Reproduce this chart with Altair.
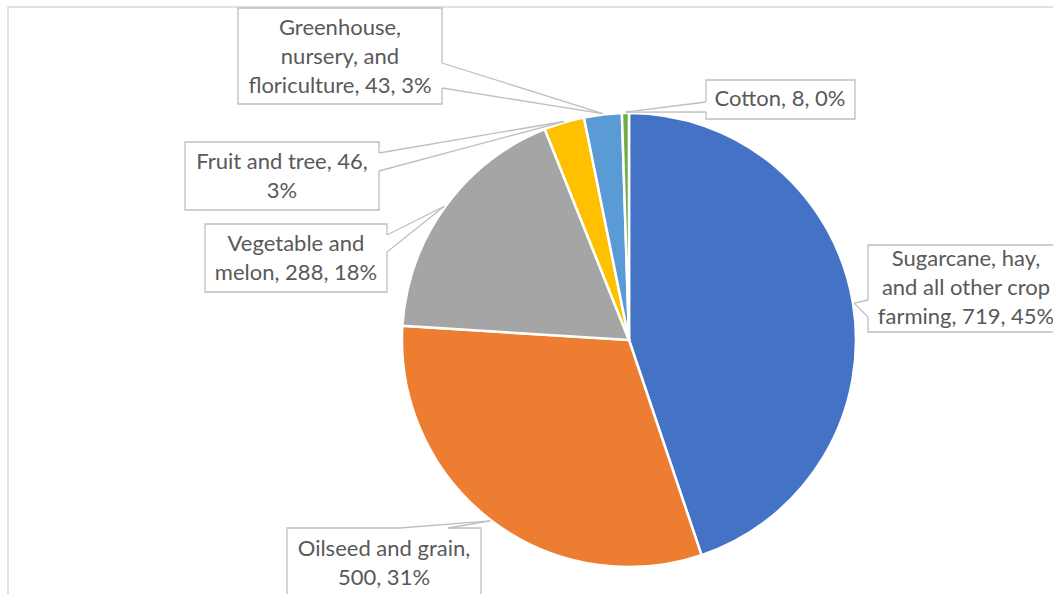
import math
import altair as alt
import pandas as pd

# ---- data ----
categories = [
    "Sugarcane, hay, and all other crop farming",
    "Oilseed and grain",
    "Vegetable and melon",
    "Fruit and tree",
    "Greenhouse, nursery, and floriculture",
    "Cotton",
]
values = [719, 500, 288, 46, 43, 8]
label_names = [
    ["Sugarcane, hay,", "and all other crop", "farming"],
    ["Oilseed and grain,"],
    ["Vegetable and", "melon"],
    ["Fruit and tree"],
    ["Greenhouse,", "nursery, and", "floriculture"],
    ["Cotton"],
]
colors = ["#4472C4", "#ED7D31", "#A5A5A5", "#FFC000", "#5B9BD5", "#70AD47"]

# ---- layout (pixels) ----
W, H = 1053, 594
CX, CY, R = 629, 340, 227
LINE_H = 29
# label boxes: x0, y0, x1, y1
boxes = [
    (868, 245, 1062, 332),
    (287, 528, 481, 598),
    (205, 224, 387, 292),
    (185, 142, 379, 210),
    (238, 8, 442, 104),
    (706, 80, 855, 119),
]
# text block centres (x, y)
text_centres = [
    (966, 288),
    (384, 563),
    (296, 258),
    (282, 176),
    (340, 57),
    (780, 99),
]
# callout bases on the box edges
bases = [
    ((868, 300), (868, 317)),
    ((400, 528), (448, 528)),
    ((387, 235), (387, 252)),
    ((379, 153), (379, 171)),
    ((442, 63), (442, 88)),
    ((706, 102), (706, 112)),
]

total = sum(values)
rows, box_rows, rule_rows, gap_rows, text_rows = [], [], [], [], []
cum = 0
for i, (c, v) in enumerate(zip(categories, values)):
    pct = round(v / total * 100)
    rows.append({"category": c, "value": v, "idx": i})
    mid = (cum + v / 2) / total * 2 * math.pi
    cum += v
    ax = CX + (R + 1) * math.sin(mid)
    ay = CY - (R + 1) * math.cos(mid)
    x0, y0, x1, y1 = boxes[i]
    box_rows.append({"x": x0, "y": y0, "x2": x1, "y2": y1})
    (bx1, by1), (bx2, by2) = bases[i]
    gap_rows.append({"x": bx1, "y": by1, "x2": bx2, "y2": by2})
    rule_rows.append({"x": bx1, "y": by1, "x2": ax, "y2": ay})
    rule_rows.append({"x": bx2, "y": by2, "x2": ax, "y2": ay})
    lines = list(label_names[i])
    tail = f"{v}, {pct}%"
    if c.startswith("Oilseed"):
        lines.append(tail)
    elif c.startswith("Fruit"):
        lines[-1] = lines[-1] + f", {v},"
        lines.append(f"{pct}%")
    else:
        lines[-1] = lines[-1] + ", " + tail
    tx, ty = text_centres[i]
    text_rows.append({"x": tx, "y": ty - (len(lines) - 1) / 2 * LINE_H, "text": lines})

df = pd.DataFrame(rows)
xs = alt.Scale(domain=[0, W], range=[0, W], nice=False, zero=False)
ys = alt.Scale(domain=[0, H], range=[0, H], nice=False, zero=False)

border = alt.Chart(pd.DataFrame([{"x": 8, "y": 7, "x2": W + 20, "y2": H + 20}])).mark_rect(
    fill="white", stroke="#D9D9D9", strokeWidth=1.5
).encode(
    x=alt.X("x:Q", scale=xs, axis=None), y=alt.Y("y:Q", scale=ys, axis=None),
    x2="x2:Q", y2="y2:Q",
)

pie = alt.Chart(df).mark_arc(outerRadius=R, stroke="white", strokeWidth=2.5).encode(
    theta=alt.Theta("value:Q", stack=True),
    order=alt.Order("idx:Q"),
    color=alt.Color("category:N", scale=alt.Scale(domain=categories, range=colors), legend=None),
    x=alt.value(CX),
    y=alt.value(CY),
)

boxes_layer = alt.Chart(pd.DataFrame(box_rows)).mark_rect(
    fill="white", stroke="#BFBFBF", strokeWidth=1.3
).encode(
    x=alt.X("x:Q", scale=xs, axis=None), y=alt.Y("y:Q", scale=ys, axis=None),
    x2="x2:Q", y2="y2:Q",
)

gap_layer = alt.Chart(pd.DataFrame(gap_rows)).mark_rule(stroke="white", strokeWidth=2.5).encode(
    x=alt.X("x:Q", scale=xs, axis=None), y=alt.Y("y:Q", scale=ys, axis=None),
    x2="x2:Q", y2="y2:Q",
)

leaders = alt.Chart(pd.DataFrame(rule_rows)).mark_rule(stroke="#BFBFBF", strokeWidth=1.3).encode(
    x=alt.X("x:Q", scale=xs, axis=None), y=alt.Y("y:Q", scale=ys, axis=None),
    x2="x2:Q", y2="y2:Q",
)

texts = alt.Chart(pd.DataFrame(text_rows)).mark_text(
    font="Lato", fontSize=22, color="#595959", align="center", baseline="middle", lineHeight=LINE_H
).encode(
    x=alt.X("x:Q", scale=xs, axis=None), y=alt.Y("y:Q", scale=ys, axis=None),
    text="text",
)

chart = alt.layer(border, pie, boxes_layer, gap_layer, leaders, texts).properties(
    width=W, height=H, padding=0, autosize=alt.AutoSizeParams(type="none")
).configure_view(stroke=None)

chart.save("out.html", embed_options={"renderer": "svg", "actions": False})
